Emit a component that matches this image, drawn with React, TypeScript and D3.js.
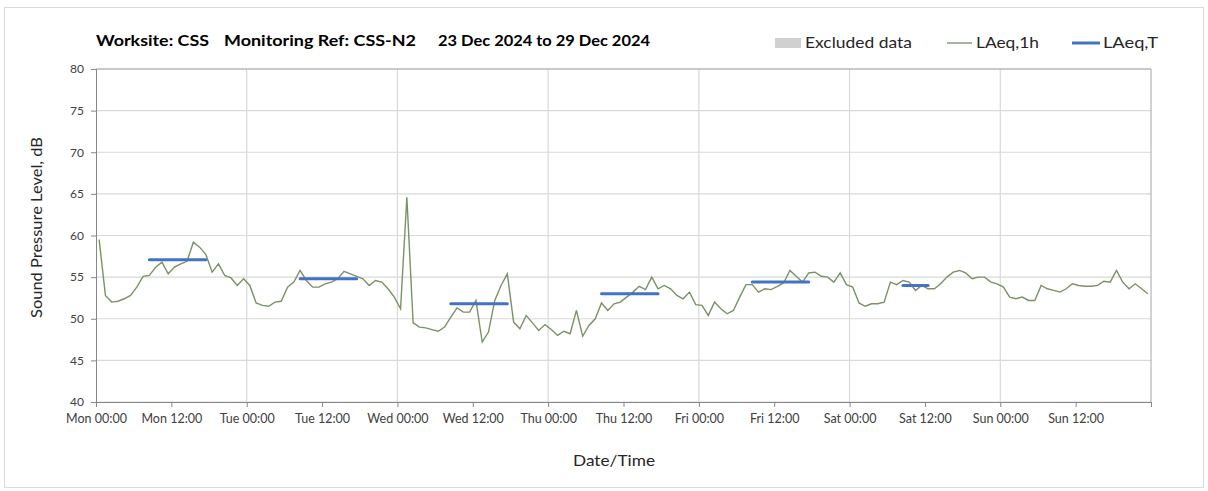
import { useEffect, useRef } from "react";
import * as d3 from "d3";

// hourly LAeq,1h values, Mon 23 Dec 2024 00:00 onwards
const laeq1h = [
  // Mon
  59.5, 52.8, 52.0, 52.1, 52.4, 52.8, 53.8, 55.1, 55.2, 56.2, 56.8, 55.4,
  56.2, 56.6, 56.9, 59.2, 58.6, 57.7, 55.6, 56.6, 55.2, 54.9, 54.0, 54.8,
  // Tue
  54.0, 51.9, 51.6, 51.5, 52.0, 52.1, 53.8, 54.4, 55.8, 54.6, 53.8, 53.8,
  54.2, 54.4, 54.8, 55.7, 55.4, 55.1, 54.8, 54.0, 54.6, 54.4, 53.6, 52.6,
  // Wed
  51.2, 64.6, 49.5, 49.0, 48.9, 48.7, 48.5, 49.0, 50.2, 51.3, 50.8, 50.8,
  52.2, 47.2, 48.4, 52.2, 54.0, 55.4, 49.6, 48.8, 50.4, 49.5, 48.6, 49.3,
  // Thu
  48.7, 48.0, 48.5, 48.2, 51.0, 47.9, 49.2, 50.0, 51.9, 51.0, 51.8, 52.0,
  52.6, 53.2, 53.9, 53.5, 55.0, 53.6, 54.0, 53.6, 52.8, 52.4, 53.2, 51.7,
  // Fri
  51.6, 50.4, 52.0, 51.2, 50.6, 51.0, 52.6, 54.1, 54.1, 53.2, 53.6, 53.5,
  53.9, 54.3, 55.8, 55.1, 54.4, 55.5, 55.6, 55.1, 55.0, 54.4, 55.5, 54.1,
  // Sat
  53.8, 51.9, 51.5, 51.8, 51.8, 52.0, 54.4, 54.1, 54.6, 54.4, 53.4, 54.0,
  53.6, 53.6, 54.2, 55.0, 55.6, 55.8, 55.5, 54.8, 55.0, 55.0, 54.4, 54.2,
  // Sun
  53.8, 52.6, 52.4, 52.6, 52.2, 52.2, 54.0, 53.6, 53.4, 53.2, 53.6, 54.2,
  54.0, 53.9, 53.9, 54.0, 54.5, 54.4, 55.8, 54.4, 53.6, 54.2, 53.6, 53.0,
];

// LAeq,T periods (hour offsets from start of week)
const periodStart = [8, 32, 56, 80, 104, 128];
const periodEnd = [18, 42, 66, 90, 114, 133];
const periodValue = [57.1, 54.8, 51.8, 53.0, 54.4, 54.0];

const yTicks = [40, 45, 50, 55, 60, 65, 70, 75, 80];
const legendItems = ["Excluded data", "LAeq,1h", "LAeq,T"];
const titleParts = ["Worksite: CSS", "Monitoring Ref: CSS-N2", "23 Dec 2024 to 29 Dec 2024"];

const start = new Date(2024, 11, 23, 0, 0);
const end = new Date(2024, 11, 30, 0, 0);
const hourAt = (h: number) => new Date(start.getTime() + h * 3600 * 1000);

const W = 1208;
const H = 491;
const left = 96;
const right = 1151;
const top = 69;
const bottom = 402;

const font = "Lato, 'Open Sans', sans-serif";
const green = "#7a9265";
const blue = "#4472c4";

export default function App() {
  const gx = useRef<SVGGElement>(null);
  const gy = useRef<SVGGElement>(null);

  const x = d3.scaleTime().domain([start, end]).range([left, right]);
  const y = d3.scaleLinear().domain([40, 80]).range([bottom, top]);

  const line = d3
    .line<number>()
    .x((_, i) => x(hourAt(i + 0.5)))
    .y((d) => y(d));

  const xTicks = d3.timeHour.every(12)!.range(start, new Date(end.getTime() + 1));
  const fmt = d3.timeFormat("%a %H:%M");

  useEffect(() => {
    const ax = d3
      .axisBottom(x)
      .tickValues(xTicks)
      .tickSize(5)
      .tickFormat((d) => ((d as Date) < end ? fmt(d as Date) : ""));
    const g = d3.select(gx.current!).call(ax);
    g.select(".domain").attr("stroke", "#868686");
    g.selectAll(".tick line").attr("stroke", "#868686");
    g.selectAll(".tick text")
      .attr("fill", "#404040")
      .attr("font-size", 12.5)
      .attr("font-family", font)
      .attr("dy", "1.05em");

    const ay = d3.axisLeft(y).tickValues(yTicks).tickSize(5).tickPadding(7);
    const h = d3.select(gy.current!).call(ay);
    h.select(".domain").attr("stroke", "#868686");
    h.selectAll(".tick line").attr("stroke", "#868686");
    h.selectAll(".tick text")
      .attr("fill", "#404040")
      .attr("font-size", 12)
      .attr("font-family", font);
  }, []);

  return (
    <div style={{ position: "absolute", left: 0, top: 0 }}>
      <svg width={W} height={H} style={{ display: "block" }}>
        <rect x={0} y={0} width={W} height={H} fill="#fff" />
        <rect x={4.5} y={7.5} width={1199} height={480} fill="none" stroke="#d9d9d9" />

        {/* gridlines */}
        {yTicks.map((t) => (
          <line key={t} x1={left} x2={right} y1={y(t)} y2={y(t)} stroke="#d9d9d9" strokeWidth={1.2} />
        ))}
        {xTicks
          .filter((d) => d.getHours() === 0 && d > start && d < end)
          .map((d, i) => (
            <line key={i} x1={x(d)} x2={x(d)} y1={top} y2={bottom} stroke="#d9d9d9" strokeWidth={1.2} />
          ))}
        <line x1={right} x2={right} y1={top} y2={bottom} stroke="#a6a6a6" />
        <line x1={left} x2={right} y1={top} y2={top} stroke="#a6a6a6" />

        <g ref={gx} transform={`translate(0,${bottom})`} />
        <g ref={gy} transform={`translate(${left},0)`} />

        <path d={line(laeq1h) ?? ""} fill="none" stroke={green} strokeWidth={1.4} />
        {periodValue.map((v, i) => (
          <line
            key={i}
            x1={x(hourAt(periodStart[i] + 0.5))}
            x2={x(hourAt(periodEnd[i] - 0.5))}
            y1={y(v)}
            y2={y(v)}
            stroke={blue}
            strokeWidth={3}
            strokeLinecap="round"
          />
        ))}

        {/* title */}
        <g fontFamily={font} fontWeight="bold" fontSize={16} fill="#000">
          <text x={96} y={46} textLength={113} lengthAdjust="spacingAndGlyphs">{titleParts[0]}</text>
          <text x={224} y={46} textLength={192} lengthAdjust="spacingAndGlyphs">{titleParts[1]}</text>
          <text x={438} y={46} textLength={212} lengthAdjust="spacingAndGlyphs">{titleParts[2]}</text>
        </g>

        {/* legend */}
        <g fontFamily={font} fontSize={16} fill="#262626">
          <rect x={775} y={38} width={26} height={10} fill="#d0d0d0" />
          <text x={805} y={48} textLength={107} lengthAdjust="spacingAndGlyphs">{legendItems[0]}</text>
          <line x1={947} x2={972} y1={43} y2={43} stroke="#4f6b3d" strokeWidth={1} />
          <text x={976} y={48} textLength={63} lengthAdjust="spacingAndGlyphs">{legendItems[1]}</text>
          <line x1={1072} x2={1100} y1={43} y2={43} stroke={blue} strokeWidth={3} />
          <text x={1103} y={48} textLength={55} lengthAdjust="spacingAndGlyphs">{legendItems[2]}</text>
        </g>

        {/* axis titles */}
        <text
          transform={`translate(42,${(top + bottom) / 2 - 8}) rotate(-90)`}
          textAnchor="middle"
          fontFamily={font}
          fontSize={16}
          fill="#262626"
          textLength={181}
          lengthAdjust="spacingAndGlyphs"
        >
          Sound Pressure Level, dB
        </text>
        <text
          x={614}
          y={466}
          textAnchor="middle"
          fontFamily={font}
          fontSize={16}
          fill="#262626"
          textLength={82}
          lengthAdjust="spacingAndGlyphs"
        >
          Date/Time
        </text>
      </svg>
    </div>
  );
}
